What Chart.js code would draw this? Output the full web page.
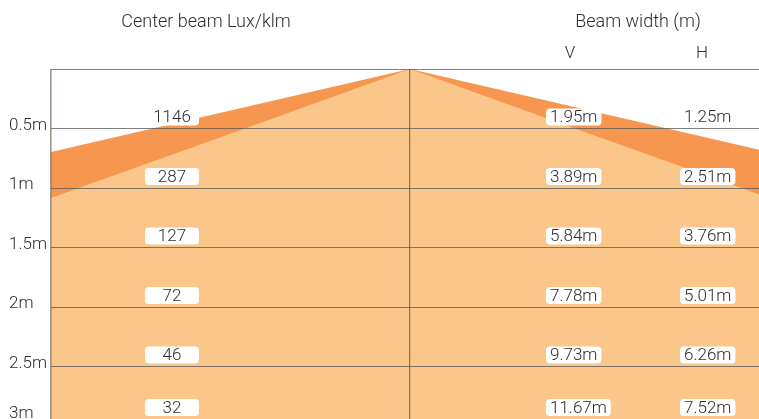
<!DOCTYPE html>
<html>
<head>
<meta charset="utf-8">
<script src="https://cdn.jsdelivr.net/npm/chart.js@4/dist/chart.umd.min.js"></script>
<style>
  html, body { margin: 0; padding: 0; background: #fff; overflow: hidden; }
  #wrap { position: relative; width: 759px; height: 427px; }
</style>
</head>
<body>
<div id="wrap"><canvas id="beamChart"></canvas></div>
<script>
// distance from the fixture (m)
const distances = [0.5, 1, 1.5, 2, 2.5, 3];
const distanceLabels = ['0.5m', '1m', '1.5m', '2m', '2.5m', '3m'];
// center beam, lux per klm
const centerLux = [1146, 287, 127, 72, 46, 32];
// beam width at each distance (m)
const widthV = [1.95, 3.89, 5.84, 7.78, 9.73, 11.67];
const widthH = [1.25, 2.51, 3.76, 5.01, 6.26, 7.52];

const darkOrange = '#f7964f';
const lightOrange = '#fbc68a';
const gridGrey = 'rgba(85, 85, 85, 0.75)';
const edgeGrey = 'rgba(120, 105, 90, 0.7)';
const textColor = '#2e2e2e';
const fontFamily = 'Roboto, "Liberation Sans", Arial, sans-serif';

const xMin = -1.36;
const xMax = 1.322;

// cone outline: apex at 0, half the beam width each side
function beamOutline(widths) {
  const pts = [];
  for (let i = distances.length - 1; i >= 0; i--) pts.push({ x: -widths[i] / 2, y: distances[i] });
  pts.push({ x: 0, y: 0 });
  for (let i = 0; i < distances.length; i++) pts.push({ x: widths[i] / 2, y: distances[i] });
  return pts;
}

const labelPlugin = {
  id: 'beamLabels',
  afterDraw(chart) {
    const ctx = chart.ctx;
    const yScale = chart.scales.y;
    ctx.save();
    ctx.fillStyle = textColor;
    ctx.textBaseline = 'alphabetic';

    // headers
    ctx.textAlign = 'center';
    ctx.font = '300 18px ' + fontFamily;
    ctx.fillText('Center beam Lux/klm', 206, 27);
    ctx.fillText('Beam width (m)', 638, 27);
    ctx.font = '300 17px ' + fontFamily;
    ctx.fillText('V', 570, 58);
    ctx.fillText('H', 702, 58);

    // distance labels on the left
    ctx.textAlign = 'left';
    distances.forEach((d, i) => {
      const py = Math.min(yScale.getPixelForValue(d) + 1, 418);
      ctx.fillText(distanceLabels[i], 9, py);
    });

    // value boxes
    const columns = [
      { left: 145, values: centerLux.map(String) },
      { left: 546, values: widthV.map(v => v.toFixed(2) + 'm') },
      { left: 680, values: widthH.map(v => v.toFixed(2) + 'm') }
    ];
    ctx.textAlign = 'center';
    columns.forEach(col => {
      col.values.forEach((txt, i) => {
        const lineY = yScale.getPixelForValue(distances[i]);
        const bottom = Math.min(lineY - 3, 416);
        const w = Math.max(54, ctx.measureText(txt).width + 8);
        ctx.fillStyle = '#fff';
        ctx.beginPath();
        ctx.roundRect(col.left, bottom - 17, w, 17, 4);
        ctx.fill();
        ctx.fillStyle = textColor;
        ctx.fillText(txt, col.left + w / 2, bottom - 3.3);
      });
    });
    ctx.restore();
  }
};

new Chart(document.getElementById('beamChart'), {
  type: 'scatter',
  data: {
    datasets: [
      {
        label: 'H',
        data: beamOutline(widthH),
        showLine: true,
        tension: 0,
        borderWidth: 0,
        pointRadius: 0,
        backgroundColor: lightOrange,
        fill: 'start'
      },
      {
        label: 'V',
        data: beamOutline(widthV),
        showLine: true,
        tension: 0,
        borderWidth: 0,
        pointRadius: 0,
        backgroundColor: darkOrange,
        fill: 'start'
      }
    ]
  },
  options: {
    responsive: true,
    maintainAspectRatio: false,
    animation: false,
    layout: { padding: { top: 69, bottom: 1, left: 0, right: 0 } },
    plugins: {
      legend: { display: false },
      tooltip: { enabled: false }
    },
    scales: {
      x: {
        type: 'linear',
        min: xMin,
        max: xMax,
        // left edge of the plot and the centre line
        afterBuildTicks(scale) { scale.ticks = [{ value: xMin }, { value: 0 }]; },
        afterFit(scale) { scale.height = 0; },
        ticks: { display: false },
        grid: {
          color: c => (c.tick && c.tick.value === 0 ? gridGrey : edgeGrey),
          lineWidth: c => (c.tick && c.tick.value === 0 ? 1.2 : 1.6),
          drawTicks: false,
          z: 1
        },
        border: { display: false }
      },
      y: {
        type: 'linear',
        reverse: true,
        min: 0,
        max: 3,
        ticks: { display: false, stepSize: 0.5 },
        afterFit(scale) { scale.width = 51; },
        grid: { color: gridGrey, lineWidth: 1, drawTicks: false, z: 1 },
        border: { display: false }
      }
    }
  },
  plugins: [labelPlugin]
});
</script>
</body>
</html>
